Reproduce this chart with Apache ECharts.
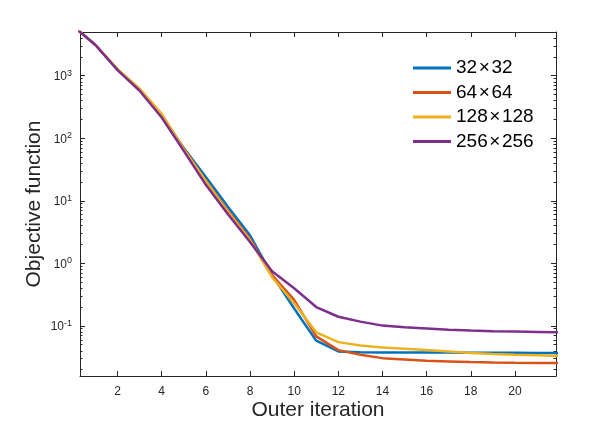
<!DOCTYPE html>
<html>
<head>
<meta charset="utf-8">
<script src="https://cdn.jsdelivr.net/npm/echarts@6/dist/echarts.min.js"></script>
<style>html,body{margin:0;padding:0;background:#fff;}#c{width:616px;height:426px;}</style>
</head>
<body>
<div id="c"></div>
<script>
// ---- data ----
const iterations = [0,1,2,3,4,5,6,7,8,9,10,11,12,13,14,15,16,17,18,19,20,21,22];
const s32  = [6200,3100,1250,590,225,70,24,8.0,2.8,0.65,0.19,0.058,0.039,0.0378,0.0377,0.0376,0.0375,0.0374,0.0373,0.0372,0.0371,0.0370,0.0369];
const s64  = [6200,3100,1260,610,238,68,21,6.9,2.47,0.65,0.26,0.068,0.041,0.0346,0.0305,0.029,0.0276,0.027,0.0264,0.026,0.0257,0.0255,0.0254];
const s128 = [6200,3100,1270,620,245,67,20.5,6.6,2.35,0.6,0.23,0.079,0.055,0.0486,0.045,0.043,0.041,0.0388,0.0367,0.0355,0.0346,0.0338,0.033];
const s256 = [6200,3100,1230,575,215,63,18,6.1,2.2,0.75,0.40,0.20,0.14,0.117,0.101,0.095,0.091,0.087,0.084,0.082,0.081,0.080,0.079];
const seriesNames = ['32\u200a×\u200a32','64\u200a×\u200a64','128\u200a×\u200a128','256\u200a×\u200a256'];
const xTicks = [2,4,6,8,10,12,14,16,18,20];
const yMajorTicks = [0.1,1,10,100,1000];
const xMin = 0.3, xMax = 21.86, yMin = 0.0158, yMax = 5000;

const yMinorTicks = [];
for (let d = -2; d <= 3; d++) {
  for (let k = 2; k <= 9; k++) {
    const v = +(k * Math.pow(10, d)).toPrecision(6);
    if (v > yMin && v < yMax) yMinorTicks.push(v);
  }
}

const colors = ['#0072BD','#D95319','#EDB120','#7E2F8E'];
const axisColor = '#262626';
const FONT = '"Liberation Sans", Arial, Helvetica, sans-serif';

const chart = echarts.init(document.getElementById('c'), null, {renderer:'canvas'});

const pairs = arr => iterations.map((x,i)=>[x, arr[i]]);

function logAxis(extra) {
  return Object.assign({
    type: 'log', logBase: 10, min: yMin, max: yMax, gridIndex: 0,
    splitLine: {show:false}, minorTick:{show:false}, minorSplitLine:{show:false},
    axisLine: {show: true, lineStyle:{color: axisColor, width: 1}},
    axisTick: {show:false},
    axisLabel: {show:false}
  }, extra);
}

const option = {
  animation: false,
  color: colors,
  grid: {left: 80, top: 32, right: 60, bottom: 48, containLabel: false},
  legend: {
    orient: 'vertical', left: 413, top: 58.5, padding: 0,
    itemWidth: 38, itemHeight: 3, itemGap: 5.5, icon: 'rect',
    textStyle: {fontFamily: FONT, fontSize: 19, color: '#000', lineHeight: 19},
    data: seriesNames
  },
  xAxis: [
    {
      type: 'value', position: 'bottom', min: xMin, max: xMax,
      splitLine: {show:false},
      axisLine: {show:true, onZero:false, lineStyle:{color: axisColor, width: 1}},
      axisTick: {show:true, inside:true, length:5, customValues: xTicks, lineStyle:{color: axisColor}},
      axisLabel: {show:true, customValues: xTicks, fontFamily: FONT, fontSize: 12, color: axisColor, margin: 10},
      name: 'Outer iteration', nameLocation: 'middle', nameGap: 24, nameMoveOverlap: false,
      nameTextStyle: {fontFamily: FONT, fontSize: 21, color: axisColor}
    },
    {
      type: 'value', position: 'top', min: xMin, max: xMax,
      splitLine: {show:false},
      axisLine: {show:true, onZero:false, lineStyle:{color: axisColor, width: 1}},
      axisTick: {show:true, inside:true, length:5, customValues: xTicks, lineStyle:{color: axisColor}},
      axisLabel: {show:false}
    }
  ],
  yAxis: [
    logAxis({
      position: 'left',
      axisTick: {show:true, inside:true, length:5, customValues: yMajorTicks, lineStyle:{color: axisColor}},
      axisLabel: {
        show: true, customValues: yMajorTicks, margin: 8,
        formatter: v => '{b|10}{s|' + Math.round(Math.log10(v)) + '}',
        rich: {
          b: {fontFamily: FONT, fontSize: 12, color: axisColor, lineHeight: 14, verticalAlign: 'bottom'},
          s: {fontFamily: FONT, fontSize: 9, color: axisColor, lineHeight: 9, verticalAlign: 'top'}
        }
      },
      name: 'Objective function', nameLocation: 'middle', nameGap: 35, nameRotate: 90, nameMoveOverlap: false,
      nameTextStyle: {fontFamily: FONT, fontSize: 21, color: axisColor}
    }),
    logAxis({
      position: 'left', axisLine: {show:false},
      axisTick: {show:true, inside:true, length:2.5, customValues: yMinorTicks, lineStyle:{color: axisColor}}
    }),
    logAxis({
      position: 'right',
      axisTick: {show:true, inside:true, length:5, customValues: yMajorTicks, lineStyle:{color: axisColor}}
    }),
    logAxis({
      position: 'right', axisLine: {show:false},
      axisTick: {show:true, inside:true, length:2.5, customValues: yMinorTicks, lineStyle:{color: axisColor}}
    })
  ],
  series: [s32, s64, s128, s256].map((arr, i) => ({
    name: seriesNames[i], type: 'line', xAxisIndex: 0, yAxisIndex: 0,
    data: pairs(arr), showSymbol: false, symbol: 'none', clip: true,
    lineStyle: {width: 2.5, color: colors[i]}, itemStyle: {color: colors[i]}
  }))
};
chart.setOption(option);
</script>
</body>
</html>
